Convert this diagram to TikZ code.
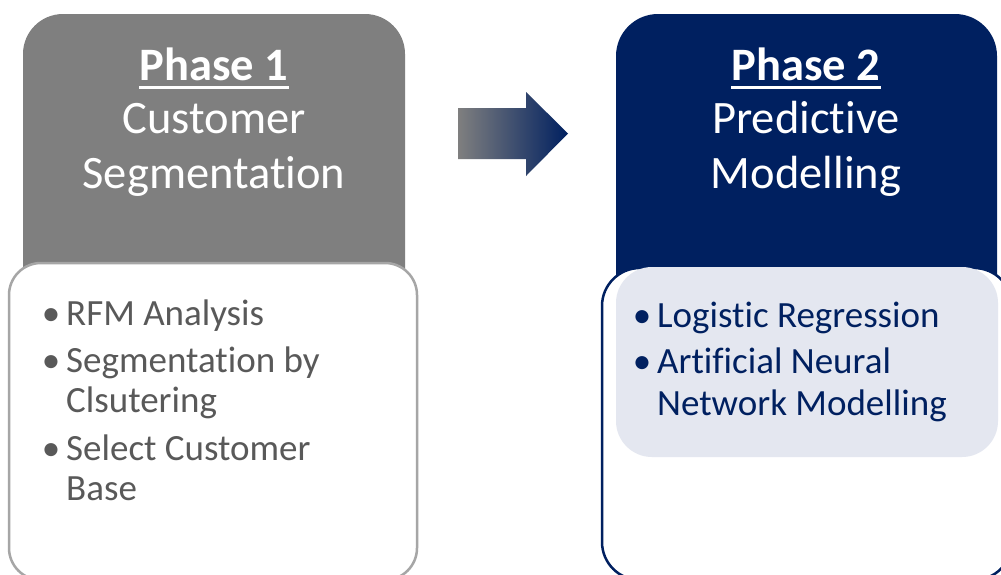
\documentclass[tikz,border=0pt]{standalone}
\usepackage{fontspec}
\setmainfont{Carlito}[Ligatures={NoCommon,NoRare,NoContextual}]
\definecolor{pgray}{RGB}{127,127,127}
\definecolor{pnavy}{RGB}{0,32,96}
\definecolor{ptext}{RGB}{89,89,89}
\definecolor{pedge}{RGB}{166,166,166}
\definecolor{plight}{RGB}{228,231,240}
\tikzset{
  headtxt/.style={font=\fontsize{46.5}{54}\selectfont, text=white, inner sep=0pt, anchor=base},
  itemtxt/.style={font=\fontsize{37}{44}\selectfont, inner sep=0pt, anchor=base west},
  bultxt/.style={font=\fontsize{37}{44}\selectfont, inner sep=0pt, anchor=base},
  uline/.style={white, line width=3pt},
}
\begin{document}
\begin{tikzpicture}[x=1pt,y=-1pt]
\useasboundingbox (0,0) rectangle (1001,574);
\clip (0,0) rectangle (1001,574);
\fill[white] (0,0) rectangle (1001,574);
% Phase 1 panel
\fill[pgray, rounded corners=40] (23,14) rectangle (405,330);
\draw[pedge, line width=2.5pt, fill=white, rounded corners=32] (9,263) rectangle (417,580);
% Phase 2 panel
\fill[pnavy, rounded corners=42] (616,14) rectangle (997,330);
\draw[pnavy, line width=2.5pt, fill=white, rounded corners=38] (602,268) rectangle (1012,580);
\fill[plight, rounded corners=36] (616,267) rectangle (998,457);
% arrow
\shade[left color=pgray, right color=pnavy] (458,108) -- (526,108) -- (526,92) -- (568,133.5) -- (526,176) -- (526,159) -- (458,159) -- cycle;
% headers
\node[headtxt] (h1a) at (214,80) {\bfseries Phase 1};
\node[headtxt] (h1b) at (214,133) {Customer};
\node[headtxt] (h1c) at (214,188) {Segmentation};
\draw[uline] ([yshift=-7pt]h1a.base west) -- ([yshift=-7pt]h1a.base east);
\node[headtxt] (h2a) at (806,80) {\bfseries Phase 2};
\node[headtxt] (h2b) at (806,133) {Predictive};
\node[headtxt] (h2c) at (806,188) {Modelling};
\draw[uline] ([yshift=-7pt]h2a.base west) -- ([yshift=-7pt]h2a.base east);
% left list
\begin{scope}[every node/.append style={text=ptext}]
\node[bultxt] (lb1) at (51,325) {•};
\node[bultxt] (lb2) at (51,372) {•};
\node[bultxt] (lb3) at (51,460) {•};
\node[itemtxt] (l1) at (66,325) {RFM Analysis};
\node[itemtxt] (l2) at (66,372) {Segmentation by};
\node[itemtxt] (l3) at (66,412) {Clsutering};
\node[itemtxt] (l4) at (66,460) {Select Customer};
\node[itemtxt] (l5) at (66,500) {Base};
\end{scope}
% right list
\begin{scope}[every node/.append style={text=pnavy}]
\node[bultxt] (rb1) at (642,327) {•};
\node[bultxt] (rb2) at (642,373) {•};
\node[itemtxt] (r1) at (657,327) {Logistic Regression};
\node[itemtxt] (r2) at (657,373) {Artificial Neural};
\node[itemtxt] (r3) at (657,415) {Network Modelling};
\end{scope}
\end{tikzpicture}
\end{document}
